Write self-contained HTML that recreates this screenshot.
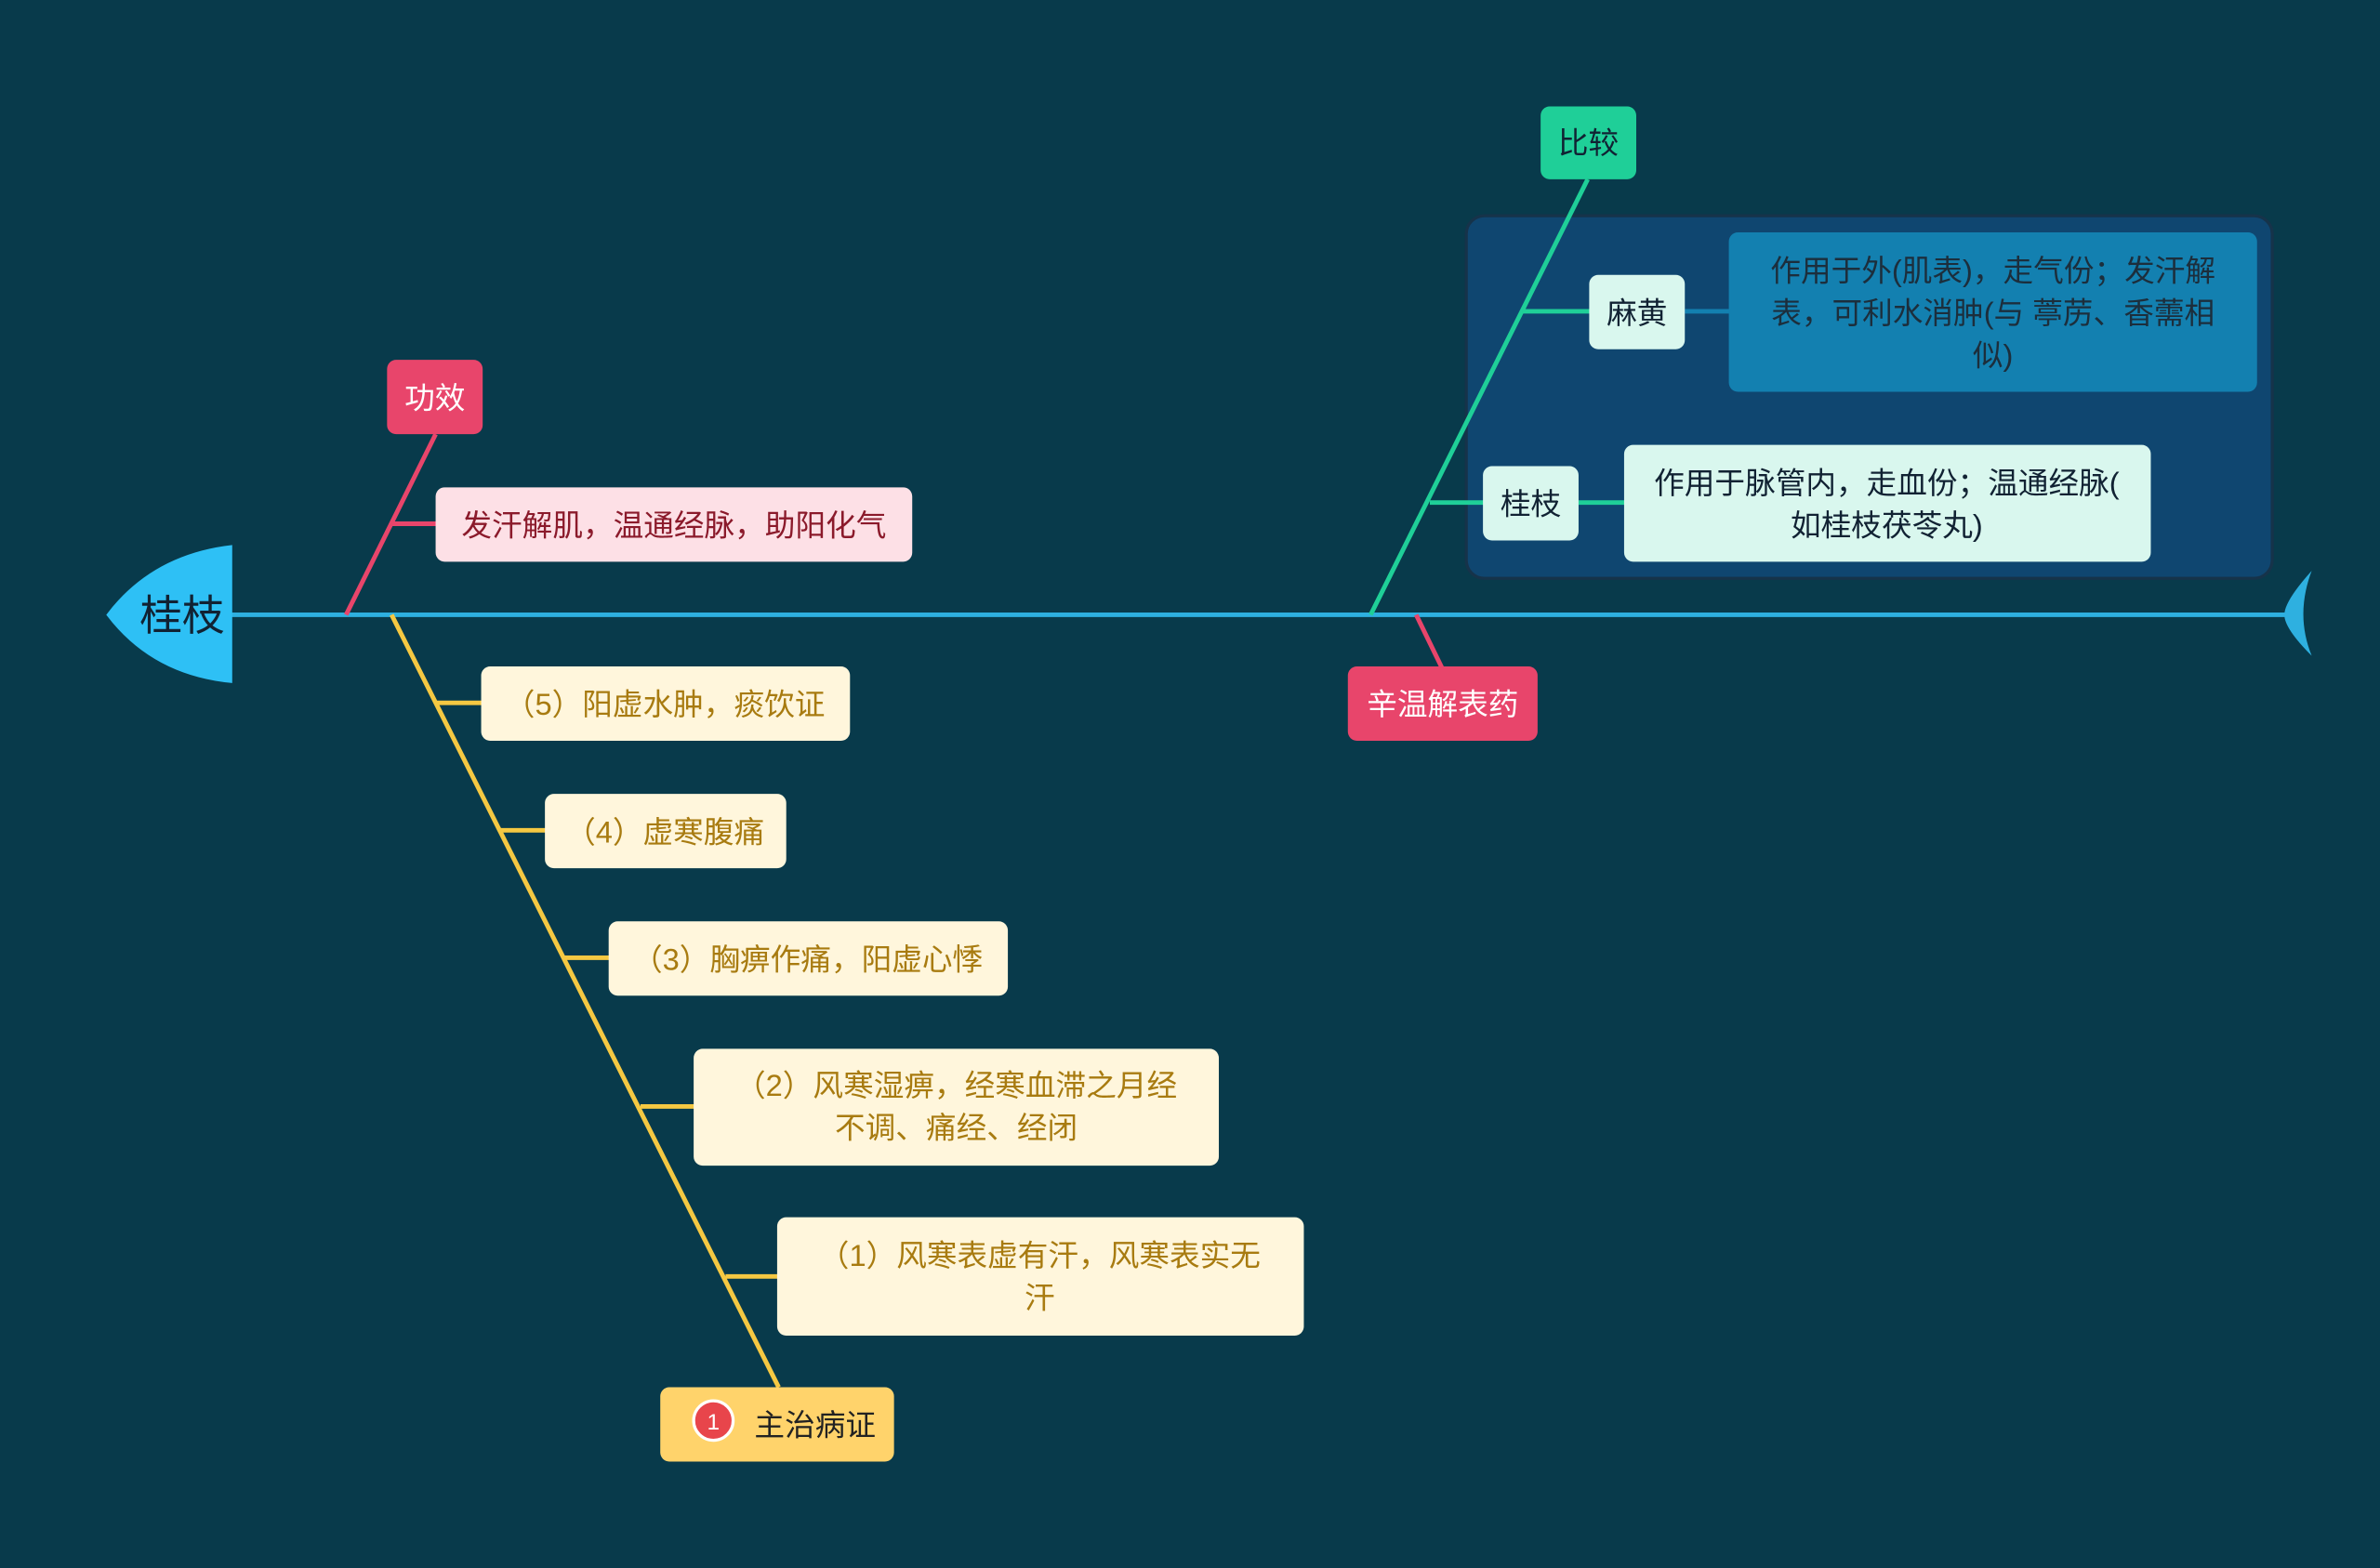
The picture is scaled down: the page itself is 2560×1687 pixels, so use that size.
<!DOCTYPE html>
<html><head><meta charset="utf-8"><style>
html,body{margin:0;padding:0;background:#083a4b;}
svg{display:block}
text{font-family:"Liberation Sans","Noto Sans CJK SC",sans-serif;}
</style></head><body>
<svg width="2560" height="1687" viewBox="0 0 1568 1033" xmlns="http://www.w3.org/2000/svg">
<rect width="1568" height="1033" fill="#083a4b"/>
<!-- group bg -->
<rect x="966" y="142" width="531" height="239" rx="12" fill="#0f4670" stroke="#16334a" stroke-width="2"/>
<!-- spine -->
<line x1="150" y1="405" x2="1512" y2="405" stroke="#2eb0e0" stroke-width="3"/>
<path d="M1523,376 Q1505,396 1505,405 Q1505,414 1523,432 Q1512,405 1523,376 Z" fill="#2eb0e0"/>
<!-- head -->
<path d="M153,359 L153,450 Q100,445 70,405 Q100,365 153,359 Z" fill="#2ec0f5"/>
<text x="120" y="415" font-size="28" fill="#123" text-anchor="middle">桂枝</text>
<!-- pink top-left -->
<line x1="287" y1="286" x2="228" y2="405" stroke="#e8456b" stroke-width="3"/>
<line x1="258" y1="345" x2="288" y2="345" stroke="#e8456b" stroke-width="3"/>
<rect x="255" y="237" width="63" height="49" rx="6" fill="#e8456b"/>
<text x="286.5" y="269" font-size="20" fill="#fff" text-anchor="middle">功效</text>
<rect x="287" y="321" width="314" height="49" rx="6" fill="#fde0e6"/>
<text x="444" y="353" font-size="20" fill="#8b1a2b" text-anchor="middle">发汗解肌，温通经脉，助阳化气</text>
<!-- yellow -->
<g stroke="#f5c842" stroke-width="3">
<line x1="258" y1="405" x2="513" y2="914"/>
<line x1="287" y1="463" x2="318" y2="463"/>
<line x1="329" y1="547" x2="360" y2="547"/>
<line x1="371" y1="631" x2="402" y2="631"/>
<line x1="422" y1="729" x2="458" y2="729"/>
<line x1="478" y1="841" x2="513" y2="841"/>
</g>
<g fill="#fff6dc">
<rect x="317" y="439" width="243" height="49" rx="6"/>
<rect x="359" y="523" width="159" height="49" rx="6"/>
<rect x="401" y="607" width="263" height="49" rx="6"/>
<rect x="457" y="691" width="346" height="77" rx="6"/>
<rect x="512" y="802" width="347" height="78" rx="6"/>
</g>
<g font-size="20" fill="#a87b10" text-anchor="middle">
<text x="438" y="471">（5）阳虚水肿，痰饮证</text>
<text x="438" y="555">（4）虚寒腹痛</text>
<text x="532" y="639">（3）胸痹作痛，阳虚心悸</text>
<text x="630" y="722">（2）风寒湿痹，经寒血滞之月经</text>
<text x="630" y="750">不调、痛经、经闭</text>
<text x="685" y="834">（1）风寒表虚有汗，风寒表实无</text>
<text x="685" y="862">汗</text>
</g>
<rect x="435" y="914" width="154" height="49" rx="6" fill="#ffd36b"/>
<circle cx="470" cy="936" r="13" fill="#e8454b" stroke="#fff" stroke-width="2"/>
<text x="470" y="942" font-size="15" fill="#fff" text-anchor="middle">1</text>
<text x="537" y="946" font-size="20" fill="#222" text-anchor="middle">主治病证</text>
<!-- green -->
<g stroke="#1fcf98" stroke-width="3">
<line x1="1046" y1="118" x2="903" y2="405"/>
<line x1="1003" y1="205" x2="1048" y2="205"/>
<line x1="942" y1="331" x2="978" y2="331"/>
<line x1="1040" y1="331" x2="1071" y2="331"/>
</g>
<line x1="1110" y1="205" x2="1140" y2="205" stroke="#1380b0" stroke-width="3"/>
<rect x="1015" y="70" width="63" height="48" rx="6" fill="#1fcf98"/>
<text x="1046.5" y="101" font-size="20" fill="#123" text-anchor="middle">比较</text>
<rect x="1047" y="181" width="63" height="49" rx="6" fill="#d9f7ee"/>
<text x="1078.5" y="213" font-size="20" fill="#123" text-anchor="middle">麻黄</text>
<rect x="1139" y="153" width="348" height="105" rx="6" fill="#1380b0"/>
<g font-size="20" fill="#1c2e3c" text-anchor="middle">
<text x="1313" y="185">作用于外(肌表)，走气份；发汗解</text>
<text x="1313" y="213">表，可利水消肿(与 葶苈、香薷相</text>
<text x="1313" y="241">似)</text>
</g>
<rect x="977" y="307" width="63" height="49" rx="6" fill="#d9f7ee"/>
<text x="1008.5" y="339" font-size="20" fill="#123" text-anchor="middle">桂枝</text>
<rect x="1070" y="293" width="347" height="77" rx="6" fill="#d9f7ee"/>
<text x="1243" y="325" font-size="20" fill="#123" text-anchor="middle">作用于脉管内，走血份；温通经脉(</text>
<text x="1243" y="353" font-size="20" fill="#123" text-anchor="middle">如桂枝茯苓丸)</text>
<!-- pink right -->
<line x1="933" y1="405" x2="950" y2="440" stroke="#e8456b" stroke-width="3"/>
<rect x="888" y="439" width="125" height="49" rx="6" fill="#e8456b"/>
<text x="950.5" y="471" font-size="20" fill="#fff" text-anchor="middle">辛温解表药</text>
</svg>
</body></html>
